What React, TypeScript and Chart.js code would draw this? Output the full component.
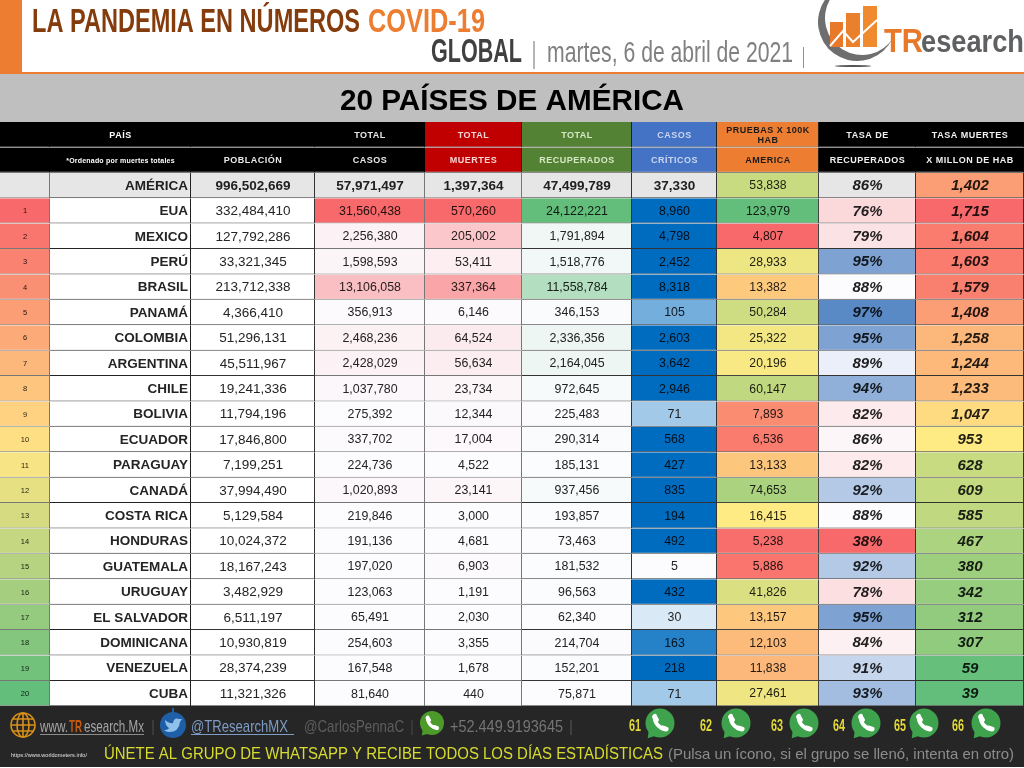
import { useEffect, useRef } from "react";
import { Chart, registerables } from "chart.js";

Chart.register(...registerables);

const SANS = '"Liberation Sans", Arial, sans-serif';
const NARROW = '"Liberation Sans Narrow", "Liberation Sans", sans-serif';

// first entry of each list is the AMÉRICA total row
const countries = ["AMÉRICA", "EUA", "MEXICO", "PERÚ", "BRASIL", "PANAMÁ", "COLOMBIA", "ARGENTINA", "CHILE", "BOLIVIA", "ECUADOR", "PARAGUAY", "CANADÁ", "COSTA RICA", "HONDURAS", "GUATEMALA", "URUGUAY", "EL SALVADOR", "DOMINICANA", "VENEZUELA", "CUBA"];
const ranks = [0, 1, 2, 3, 4, 5, 6, 7, 8, 9, 10, 11, 12, 13, 14, 15, 16, 17, 18, 19, 20];
const population = [996502669, 332484410, 127792286, 33321345, 213712338, 4366410, 51296131, 45511967, 19241336, 11794196, 17846800, 7199251, 37994490, 5129584, 10024372, 18167243, 3482929, 6511197, 10930819, 28374239, 11321326];
const cases = [57971497, 31560438, 2256380, 1598593, 13106058, 356913, 2468236, 2428029, 1037780, 275392, 337702, 224736, 1020893, 219846, 191136, 197020, 123063, 65491, 254603, 167548, 81640];
const deaths = [1397364, 570260, 205002, 53411, 337364, 6146, 64524, 56634, 23734, 12344, 17004, 4522, 23141, 3000, 4681, 6903, 1191, 2030, 3355, 1678, 440];
const recovered = [47499789, 24122221, 1791894, 1518776, 11558784, 346153, 2336356, 2164045, 972645, 225483, 290314, 185131, 937456, 193857, 73463, 181532, 96563, 62340, 214704, 152201, 75871];
const critical = [37330, 8960, 4798, 2452, 8318, 105, 2603, 3642, 2946, 71, 568, 427, 835, 194, 492, 5, 432, 30, 163, 218, 71];
const tests = [53838, 123979, 4807, 28933, 13382, 50284, 25322, 20196, 60147, 7893, 6536, 13133, 74653, 16415, 5238, 5886, 41826, 13157, 12103, 11838, 27461];
const recoveryRate = [86, 76, 79, 95, 88, 97, 95, 89, 94, 82, 86, 82, 92, 88, 38, 92, 78, 95, 84, 91, 93];
const deathRate = [1402, 1715, 1604, 1603, 1579, 1408, 1258, 1244, 1233, 1047, 953, 628, 609, 585, 467, 380, 342, 312, 307, 59, 39];

const whatsappGroups = ["61", "62", "63", "64", "65", "66"];

const columnWidths = [50, 141, 124, 110, 97, 110, 85, 102, 97, 108];

const WHITE = "#FCFCFF";
const RED = "#F8696B";
const YELLOW = "#FFEB84";
const GREEN = "#63BE7B";
const TOTAL_GREY = "#E6E6E6";

type Stop = [number, string];

const rgb = (hex: string) => [1, 3, 5].map((i) => parseInt(hex.slice(i, i + 2), 16));
const mix = (a: string, b: string, t: number) => {
  const ca = rgb(a);
  const cb = rgb(b);
  const out = ca.map((v, i) => Math.round(v + (cb[i] - v) * t));
  return "#" + out.map((v) => v.toString(16).padStart(2, "0")).join("");
};
const scale = (v: number, stops: Stop[]) => {
  if (v <= stops[0][0]) return stops[0][1];
  for (let i = 1; i < stops.length; i++) {
    if (v <= stops[i][0]) {
      const t = (v - stops[i - 1][0]) / (stops[i][0] - stops[i - 1][0]);
      return mix(stops[i - 1][1], stops[i][1], t);
    }
  }
  return stops[stops.length - 1][1];
};
const fmt = (v: number) => v.toLocaleString("en-US");

// excel-like colour scales, total row stays grey unless keepTotal
const fills = (values: number[], stops: Stop[], keepTotal = false) =>
  values.map((v, i) => (i === 0 && !keepTotal ? TOTAL_GREY : scale(v, stops)));

const plainFills = values => values.map((_: any, i: number) => (i === 0 ? TOTAL_GREY : "#FFFFFF"));

const HEADER_ROWS = ["h1", "h2"];
const rowLabels = [...HEADER_ROWS, ...countries];

const columns = [
  { head: ["", ""], headFill: "#000000", headText: "#FFFFFF", texts: ranks.map((r) => (r ? String(r) : "")), cellFills: fills(ranks, [[1, RED], [10.5, "#FFE684"], [20, GREEN]]), font: () => `7.5px ${SANS}`, align: "center", line: "#777777" },
  { head: ["PAÍS", "*Ordenado por muertes totales"], headFill: "#000000", headText: "#FFFFFF", texts: countries, cellFills: plainFills(countries), font: () => `bold 13.5px ${SANS}`, align: "right", line: "#222222" },
  { head: ["", "POBLACIÓN"], headFill: "#000000", headText: "#E8E8E8", texts: population.map(fmt), cellFills: plainFills(population), font: (i: number) => `${i ? "" : "bold "}13.5px ${SANS}`, align: "center", line: "#333333" },
  { head: ["TOTAL", "CASOS"], headFill: "#000000", headText: "#E8E8E8", texts: cases.map(fmt), cellFills: fills(cases, [[0, WHITE], [31560438, RED]]), font: (i: number) => `${i ? "12.4px" : "bold 13.5px"} ${SANS}`, align: "center", line: "#777777" },
  { head: ["TOTAL", "MUERTES"], headFill: "#C00000", headText: "#F4D6D6", texts: deaths.map(fmt), cellFills: fills(deaths, [[0, WHITE], [570260, RED]]), font: (i: number) => `${i ? "12.4px" : "bold 13.5px"} ${SANS}`, align: "center", line: "#777777" },
  { head: ["TOTAL", "RECUPERADOS"], headFill: "#548235", headText: "#D5E8C4", texts: recovered.map(fmt), cellFills: fills(recovered, [[0, WHITE], [24122221, GREEN]]), font: (i: number) => `${i ? "12.4px" : "bold 13.5px"} ${SANS}`, align: "center", line: "#333333" },
  { head: ["CASOS", "CRÍTICOS"], headFill: "#4472C4", headText: "#C9D7F0", texts: critical.map(fmt), cellFills: fills(critical, [[5, WHITE], [190, "#006CBF"]]), font: (i: number) => `${i ? "12.4px" : "bold 13.5px"} ${SANS}`, align: "center", line: "#333333" },
  { head: ["PRUEBAS X 100K\nHAB", "AMERICA"], headFill: "#ED7D31", headText: "#1A1A1A", texts: tests.map(fmt), cellFills: fills(tests, [[4807, RED], [16400, YELLOW], [123979, GREEN]], true), font: () => `12.2px ${SANS}`, align: "center", line: "#444444" },
  { head: ["TASA DE", "RECUPERADOS"], headFill: "#000000", headText: "#F0F0F0", texts: recoveryRate.map((v) => v + "%"), cellFills: fills(recoveryRate, [[38, RED], [88, WHITE], [97, "#5A8AC6"]]), font: () => `italic bold 15px ${SANS}`, align: "center", line: "#333333" },
  { head: ["TASA MUERTES", "X MILLON DE HAB"], headFill: "#000000", headText: "#F0F0F0", texts: deathRate.map(fmt), cellFills: fills(deathRate, [[39, GREEN], [953, YELLOW], [1715, RED]], true), font: () => `italic bold 15px ${SANS}`, align: "center", line: "#333333" },
];

// text squeezed or stretched to the width it has in the poster
function fitText(ctx: CanvasRenderingContext2D, text: string, x: number, y: number, width: number, font: string, color: string) {
  ctx.save();
  ctx.font = font;
  ctx.fillStyle = color;
  ctx.textAlign = "left";
  ctx.textBaseline = "alphabetic";
  const w = ctx.measureText(text).width;
  ctx.translate(x, y);
  ctx.scale(width / w, 1);
  ctx.fillText(text, 0, 0);
  ctx.restore();
}

function drawLogo(ctx: CanvasRenderingContext2D) {
  ctx.save();
  // crescent
  ctx.fillStyle = "#6E6E6E";
  ctx.beginPath();
  ctx.arc(857, 22, 39, Math.PI * 0.2, Math.PI * 1.33);
  ctx.arc(862, 18, 37, Math.PI * 1.3, Math.PI * 0.2, true);
  ctx.closePath();
  ctx.fill();
  // bars
  ctx.fillStyle = "#E8782A";
  ctx.fillRect(830, 22, 13, 25);
  ctx.fillStyle = "#EA7F2C";
  ctx.fillRect(846, 13, 14, 34);
  ctx.fillStyle = "#F08A2E";
  ctx.fillRect(863, 6, 14, 41);
  ctx.strokeStyle = "#FFFFFF";
  ctx.lineWidth = 2;
  ctx.beginPath();
  ctx.moveTo(830, 46);
  ctx.lineTo(843, 31);
  ctx.lineTo(853, 42);
  ctx.lineTo(877, 20);
  ctx.stroke();
  ctx.fillStyle = "#555555";
  ctx.beginPath();
  ctx.ellipse(853, 66, 18, 1, 0, 0, Math.PI * 2);
  ctx.fill();
  ctx.restore();
  fitText(ctx, "TR", 884, 52, 39, `bold 33px ${SANS}`, "#E8782A");
  fitText(ctx, "esearch", 921, 52, 103, `bold 31px ${SANS}`, "#5F6062");
}

function drawGlobe(ctx: CanvasRenderingContext2D, x: number, y: number) {
  ctx.save();
  ctx.strokeStyle = "#D9901A";
  ctx.lineWidth = 1.6;
  ctx.beginPath();
  ctx.arc(x, y, 12, 0, Math.PI * 2);
  ctx.stroke();
  ctx.beginPath();
  ctx.ellipse(x, y, 6, 12, 0, 0, Math.PI * 2);
  ctx.moveTo(x, y - 12);
  ctx.lineTo(x, y + 12);
  ctx.moveTo(x - 12, y);
  ctx.lineTo(x + 12, y);
  ctx.moveTo(x - 10, y - 6);
  ctx.lineTo(x + 10, y - 6);
  ctx.moveTo(x - 10, y + 6);
  ctx.lineTo(x + 10, y + 6);
  ctx.stroke();
  ctx.restore();
}

function drawTwitter(ctx: CanvasRenderingContext2D, x: number, y: number) {
  ctx.save();
  ctx.fillStyle = "#1F5FA8";
  ctx.beginPath();
  ctx.arc(x, y, 13, 0, Math.PI * 2);
  ctx.fill();
  ctx.fillRect(x - 1, y - 17, 2, 5);
  ctx.fillStyle = "#8FC1EA";
  ctx.beginPath();
  ctx.moveTo(x - 8, y - 5);
  ctx.quadraticCurveTo(x - 3, y - 1, x, y - 2);
  ctx.quadraticCurveTo(x + 1, y - 8, x + 6, y - 6);
  ctx.lineTo(x + 9, y - 6);
  ctx.lineTo(x + 7, y - 3);
  ctx.quadraticCurveTo(x + 6, y + 7, x - 4, y + 7);
  ctx.quadraticCurveTo(x - 7, y + 7, x - 9, y + 5);
  ctx.quadraticCurveTo(x - 5, y + 5, x - 4, y + 3);
  ctx.quadraticCurveTo(x - 8, y, x - 8, y - 5);
  ctx.fill();
  ctx.restore();
}

function drawWhatsapp(ctx: CanvasRenderingContext2D, x: number, y: number, r: number, green: string) {
  ctx.save();
  ctx.fillStyle = green;
  ctx.beginPath();
  ctx.arc(x, y, r, 0, Math.PI * 2);
  ctx.fill();
  ctx.beginPath();
  ctx.moveTo(x - r * 0.75, y + r * 0.35);
  ctx.lineTo(x - r * 0.85, y + r * 1.05);
  ctx.lineTo(x - r * 0.2, y + r * 0.85);
  ctx.closePath();
  ctx.fill();
  ctx.strokeStyle = "#FFFFFF";
  ctx.lineCap = "round";
  ctx.lineWidth = r * 0.26;
  ctx.beginPath();
  ctx.arc(x + r * 0.42, y - r * 0.38, r * 0.78, Math.PI * 0.55, Math.PI * 1.05);
  ctx.stroke();
  ctx.lineWidth = r * 0.34;
  ctx.beginPath();
  ctx.moveTo(x - r * 0.37, y - r * 0.42);
  ctx.lineTo(x - r * 0.25, y - r * 0.22);
  ctx.moveTo(x + r * 0.15, y + r * 0.34);
  ctx.lineTo(x + r * 0.42, y + r * 0.42);
  ctx.stroke();
  ctx.restore();
}

// poster frame around the table: masthead, title band, footer
const posterPlugin = {
  id: "poster",
  beforeDraw(chart: any) {
    const { ctx } = chart;
    ctx.save();
    ctx.fillStyle = "#FFFFFF";
    ctx.fillRect(0, 0, 1024, 768);
    ctx.fillStyle = "#ED7D31";
    ctx.fillRect(0, 0, 22, 72);
    ctx.fillRect(0, 72, 1024, 2);
    ctx.fillStyle = "#BFBFBF";
    ctx.fillRect(0, 74, 1024, 48);
    ctx.fillStyle = "#262626";
    ctx.fillRect(0, 706, 1024, 61);
    ctx.restore();

    fitText(ctx, "LA PANDEMIA EN NÚMEROS", 32, 32, 328, `bold 33px ${NARROW}`, "#843C0C");
    fitText(ctx, "COVID-19", 368, 32, 117, `bold 33px ${NARROW}`, "#ED7D31");
    fitText(ctx, "GLOBAL", 431, 62, 91, `bold 33px ${NARROW}`, "#404040");
    fitText(ctx, "|", 532, 63, 4, `30px ${NARROW}`, "#8C8C8C");
    fitText(ctx, "martes, 6 de abril de 2021", 547, 62, 246, `29px ${NARROW}`, "#808080");
    fitText(ctx, "|", 802, 63, 3, `22px ${NARROW}`, "#8C8C8C");
    drawLogo(ctx);

    fitText(ctx, "20 PAÍSES DE AMÉRICA", 340, 110, 344, `bold 30px ${SANS}`, "#000000");

    // footer, first line
    drawGlobe(ctx, 23, 725);
    fitText(ctx, "www.", 40, 732, 28, `17px ${NARROW}`, "#A6A6A6");
    fitText(ctx, "TR", 69, 732, 13, `bold 17px ${NARROW}`, "#C55A11");
    fitText(ctx, "esearch.Mx", 84, 732, 60, `17px ${NARROW}`, "#A6A6A6");
    ctx.fillStyle = "#8C8C8C";
    ctx.fillRect(40, 734, 104, 1);
    fitText(ctx, "|", 152, 732, 2, `17px ${NARROW}`, "#666666");
    drawTwitter(ctx, 173, 725);
    fitText(ctx, "@TResearchMX", 191, 732, 97, `17px ${NARROW}`, "#7F9CC4");
    ctx.fillStyle = "#7F9CC4";
    ctx.fillRect(191, 734, 103, 1);
    fitText(ctx, "@CarlosPennaC", 304, 732, 100, `17px ${NARROW}`, "#5E5E5E");
    fitText(ctx, "|", 411, 732, 2, `17px ${NARROW}`, "#5E5E5E");
    drawWhatsapp(ctx, 432, 723, 12, "#4C9A2A");
    fitText(ctx, "+52.449.9193645", 450, 732, 113, `17px ${NARROW}`, "#757575");
    fitText(ctx, "|", 570, 732, 2, `17px ${NARROW}`, "#757575");

    const groupNumberX = [629, 700, 771, 833, 894, 952];
    const groupIconX = [660, 736, 804, 866, 924, 986];
    whatsappGroups.forEach((g, i) => {
      fitText(ctx, g, groupNumberX[i], 731, 12, `bold 16px ${NARROW}`, "#E2D93A");
      drawWhatsapp(ctx, groupIconX[i], 723, 14.5, "#3FA34D");
    });

    // footer, second line
    fitText(ctx, "https://www.worldometers.info/", 11, 757, 76, `5.5px ${SANS}`, "#E0E0E0");
    fitText(ctx, "ÚNETE AL GRUPO DE WHATSAPP Y RECIBE TODOS LOS DÍAS ESTADÍSTICAS", 104, 759, 559, `16px ${SANS}`, "#D8DC2E");
    fitText(ctx, "(Pulsa un ícono, si el grupo se llenó, intenta en otro)", 668, 759, 346, `15px ${SANS}`, "#8C8C8C");
  },
  afterDatasetsDraw(chart: any) {
    const { ctx } = chart;
    ctx.save();
    ctx.textBaseline = "middle";
    columns.forEach((col, c) => {
      const bars = chart.getDatasetMeta(c).data;
      col.head.forEach((label, h) => {
        if (!label) return;
        const bar = bars[h];
        const cx = (bar.x + bar.base) / 2;
        ctx.fillStyle = col.headText;
        ctx.textAlign = "center";
        ctx.font = `bold ${label.startsWith("*") ? 7 : 9}px ${SANS}`;
        ctx.letterSpacing = label.startsWith("*") ? "0.2px" : "0.5px";
        const lines = label.split("\n");
        lines.forEach((line, l) => {
          ctx.fillText(line, cx, bar.y + (l - (lines.length - 1) / 2) * 10 + 0.5);
        });
      });
      ctx.letterSpacing = "0px";
      col.texts.forEach((text, i) => {
        if (!text) return;
        const bar = bars[i + HEADER_ROWS.length];
        ctx.font = col.font(i);
        ctx.fillStyle = mix(col.cellFills[i], "#000000", 0.86);
        if (col.align === "right") {
          ctx.textAlign = "right";
          ctx.fillText(text, bar.x - 3, bar.y + 0.5);
        } else {
          ctx.textAlign = "center";
          ctx.fillText(text, (bar.x + bar.base) / 2, bar.y + 0.5);
        }
      });
    });
    ctx.restore();
  },
};

export default function App() {
  const canvasRef = useRef<HTMLCanvasElement | null>(null);

  useEffect(() => {
    if (!canvasRef.current) return;
    const ctx = canvasRef.current.getContext("2d");
    if (!ctx) return;

    const chart = new Chart(ctx, {
      type: "bar",
      data: {
        labels: rowLabels,
        datasets: columns.map((col, c) => ({
          label: col.head.join(" "),
          data: rowLabels.map(() => columnWidths[c]),
          backgroundColor: [col.headFill, col.headFill, ...col.cellFills],
          borderColor: rowLabels.map((_, i) => (i < 2 ? (col.headFill === "#000000" ? "#000000" : "#222222") : col.line)),
          borderWidth: { top: 0, left: 0, right: 1, bottom: 1 },
          borderSkipped: false,
          categoryPercentage: 1,
          barPercentage: 1,
          inflateAmount: 0,
        })),
      },
      options: {
        indexAxis: "y",
        responsive: false,
        animation: false,
        layout: { padding: { top: 122, bottom: 61.7, left: 0, right: 0 } },
        plugins: {
          legend: { display: false },
          title: { display: false },
          tooltip: { enabled: false },
        },
        scales: {
          x: { type: "linear", stacked: true, min: 0, max: 1024, display: false },
          y: { type: "category", stacked: true, display: false },
        },
      },
      plugins: [posterPlugin],
    } as any);

    return () => chart.destroy();
  }, []);

  return (
    <div style={{ position: "absolute", left: 0, top: 0, width: 1024, height: 768, background: "#fff" }}>
      <canvas ref={canvasRef} width={1024} height={768} style={{ display: "block" }}></canvas>
    </div>
  );
}
